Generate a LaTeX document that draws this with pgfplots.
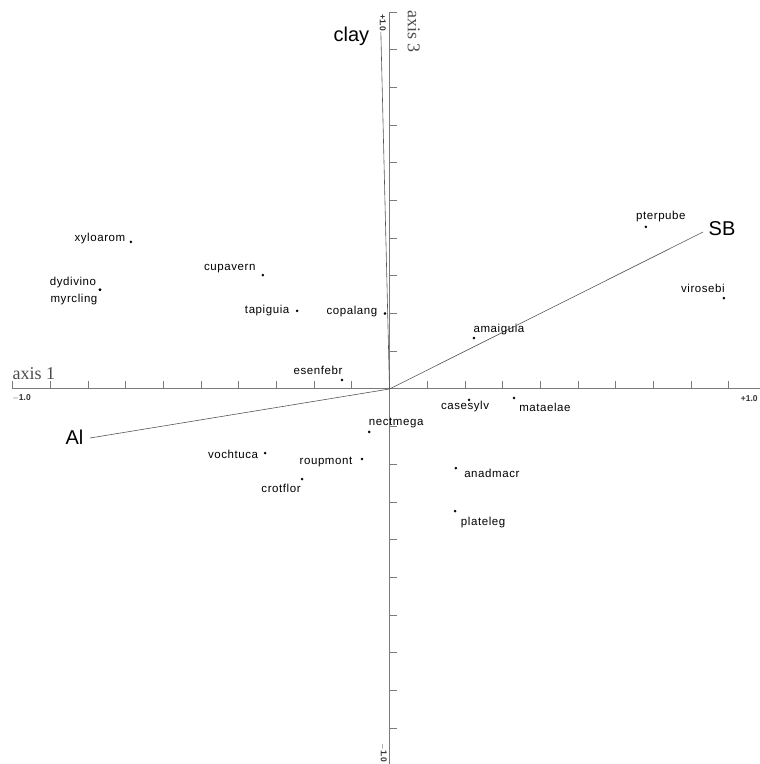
\documentclass[border=0pt]{standalone}
\usepackage{pgfplots}
\usepackage{pgfplotstable}
\pgfplotsset{compat=1.18}
\usepackage{fontspec}
\setmainfont{Liberation Sans}
\newfontfamily\lab[LetterSpace=5]{Liberation Sans}
\newfontfamily\serif{Liberation Serif}
\definecolor{axgray}{HTML}{7A7A7A}
\definecolor{vecgray}{HTML}{555555}

\pgfplotstableread{
name x y dx dy
xyloarom -0.686 0.390 -31 3
dydivino -0.768 0.263 -27 7
myrcling -0.768 0.263 -26 -10
cupavern -0.336 0.302 -33 7
tapiguia -0.245 0.207 -30 0
copalang -0.012 0.200 -33 2
esenfebr -0.126 0.024 -24 10
amaiguia 0.224 0.135 25 9
casesylv 0.211 -0.029 -4 -7
mataelae 0.330 -0.024 31 -9
pterpube 0.680 0.430 15 10
virosebi 0.887 0.241 -21 10
nectmega -0.054 -0.114 27 9
vochtuca -0.330 -0.170 -32 -1
roupmont -0.073 -0.186 -36 -3
crotflor -0.232 -0.239 -21 -9
anadmacr 0.176 -0.210 36 -5
plateleg 0.174 -0.324 28 -11
}\species

\begin{document}
\begin{tikzpicture}
\begin{axis}[
  scale only axis, width=759pt, height=764pt,
  xmin=-1.0332, xmax=0.9801, ymin=-0.9947, ymax=1.0318,
  axis lines=none, clip=false,
]
% axes
\draw[axgray, line width=1pt] (axis cs:-1,0) -- (axis cs:1,0);
\draw[axgray, line width=1pt] (axis cs:0,-1) -- (axis cs:0,1);
\pgfplotsinvokeforeach{-1.0,-0.9,-0.8,-0.7,-0.6,-0.5,-0.4,-0.3,-0.2,-0.1,0.1,0.2,0.3,0.4,0.5,0.6,0.7,0.8,0.9,1.0}{
  \draw[axgray, line width=0.8pt] (axis cs:#1,0) -- ++(0pt,8pt);
  \draw[axgray, line width=0.8pt] (axis cs:0,#1) -- ++(7pt,0pt);
}
\node[font=\serif\fontsize{18}{18}\selectfont, text=black!70, anchor=south west, inner sep=0pt] at (axis cs:-1,0.025) {axis 1};
\node[font=\serif\fontsize{18}{18}\selectfont, text=black!70, rotate=-90, anchor=south west, inner sep=0pt] at (axis cs:0.048,1.005) {axis 3};
\node[font=\bfseries\fontsize{8.5}{8.5}\selectfont, text=black!80, inner sep=0pt] at (axis cs:-0.976,-0.025) {$-$1.0};
\node[font=\bfseries\fontsize{8.5}{8.5}\selectfont, text=black!80, inner sep=0pt, anchor=east] at (axis cs:0.977,-0.025) {+1.0};
\node[font=\bfseries\fontsize{8.5}{8.5}\selectfont, text=black!80, rotate=-90, inner sep=0pt] at (axis cs:-0.018,0.972) {+1.0};
\node[font=\bfseries\fontsize{8.5}{8.5}\selectfont, text=black!80, rotate=-90, inner sep=0pt] at (axis cs:-0.016,-0.965) {$-$1.0};

% environmental vectors
\addplot[vecgray, line width=0.6pt] coordinates {(0,0) (-0.023,0.947)}
  node[pos=1, anchor=east, xshift=-8pt, yshift=-4pt, font=\fontsize{20}{20}\selectfont, text=black] {clay};
\addplot[vecgray, line width=0.6pt] coordinates {(0,0) (0.8316,0.4164)}
  node[pos=1, anchor=west, xshift=2pt, yshift=3pt, font=\fontsize{20}{20}\selectfont, text=black] {SB};
\addplot[vecgray, line width=0.6pt] coordinates {(0,0) (-0.7944,-0.130)}
  node[pos=1, anchor=east, xshift=-3pt, yshift=1pt, font=\fontsize{20}{20}\selectfont, text=black] {Al};

% species
\addplot[only marks, mark=*, mark size=1.1pt, black,
  point meta=explicit symbolic,
  visualization depends on={\thisrow{dx} \as \dx},
  visualization depends on={\thisrow{dy} \as \dy},
  nodes near coords,
  every node near coord/.append style={anchor=center, xshift=\dx pt, yshift=\dy pt, font=\lab\fontsize{11.5}{11.5}\selectfont, text=black, inner sep=0pt},
] table[x=x, y=y, meta=name] {\species};
\end{axis}
\pgfresetboundingbox
\path (current axis.south west) rectangle (current axis.north east);
\end{tikzpicture}
\end{document}
